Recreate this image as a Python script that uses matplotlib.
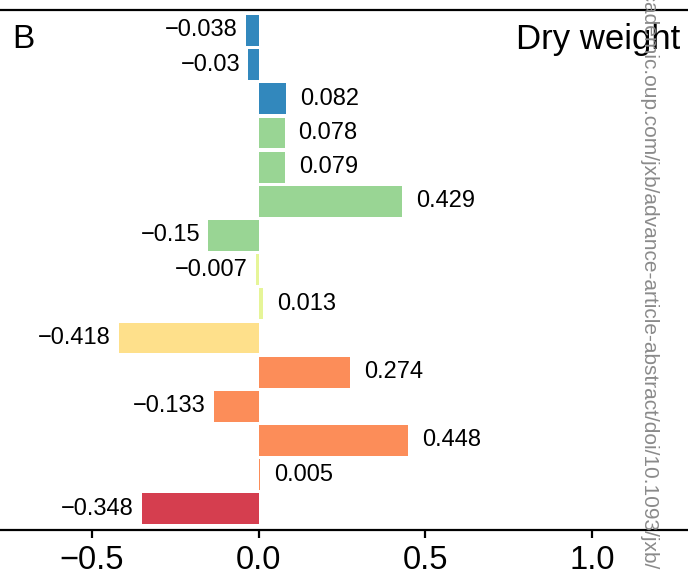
import matplotlib
matplotlib.use("Agg")
import matplotlib.pyplot as plt

plt.rcParams['font.family'] = ['Liberation Sans', 'DejaVu Sans']

# ── data (top to bottom) ──────────────────────────────────────────────────
values = [-0.038, -0.03, 0.082, 0.078, 0.079, 0.429, -0.15, -0.007,
          0.013, -0.418, 0.274, -0.133, 0.448, 0.005, -0.348]
colors = ["#3288bd", "#3288bd", "#3288bd",
          "#99d594", "#99d594", "#99d594", "#99d594",
          "#e6f598", "#e6f598",
          "#fee08b",
          "#fc8d59", "#fc8d59", "#fc8d59", "#fc8d59",
          "#d53e4f"]
xticks = [-0.5, 0.0, 0.5, 1.0]

fig = plt.figure(figsize=(6.88, 5.74), dpi=100, facecolor="white")
ax = fig.add_axes([0.0, 1 - 530 / 574, 1.0, (530 - 10) / 574])

pos = list(range(len(values)))
ax.barh(pos, values, height=0.9, color=colors, zorder=2)

# value labels
for y, v in zip(pos, values):
    txt = f"{v:g}".replace("-", "\u2212")
    if v >= 0:
        ax.annotate(txt, xy=(v, y), xytext=(10, 0), textcoords="offset points",
                    ha="left", va="center", fontsize=17)
    else:
        ax.annotate(txt, xy=(v, y), xytext=(-6, 0), textcoords="offset points",
                    ha="right", va="center", fontsize=17)

ax.set_xlim(-0.774, 1.286)
ax.set_ylim(14.62, -0.6)
ax.set_xticks(xticks)
ax.set_yticks([])
ax.tick_params(axis="x", labelsize=23.5, length=6, width=1.6, pad=5)

for side in ("left", "right"):
    ax.spines[side].set_visible(False)
for side in ("top", "bottom"):
    ax.spines[side].set_linewidth(1.6)

fig.text(12 / 688, 1 - 40 / 574, "B", fontsize=24, ha="left", va="center")
fig.text(680 / 688, 1 - 40 / 574, "Dry weight", fontsize=25, ha="right", va="center")

# journal watermark
fig.text(649 / 688, 1 + 20 / 574,
         "academic.oup.com/jxb/advance-article-abstract/doi/10.1093/jxb/",
         rotation=-90, rotation_mode="anchor", ha="left", va="center",
         fontsize=15, color="#8a8a8a")

fig.savefig("out.png", dpi=100, facecolor="white")
